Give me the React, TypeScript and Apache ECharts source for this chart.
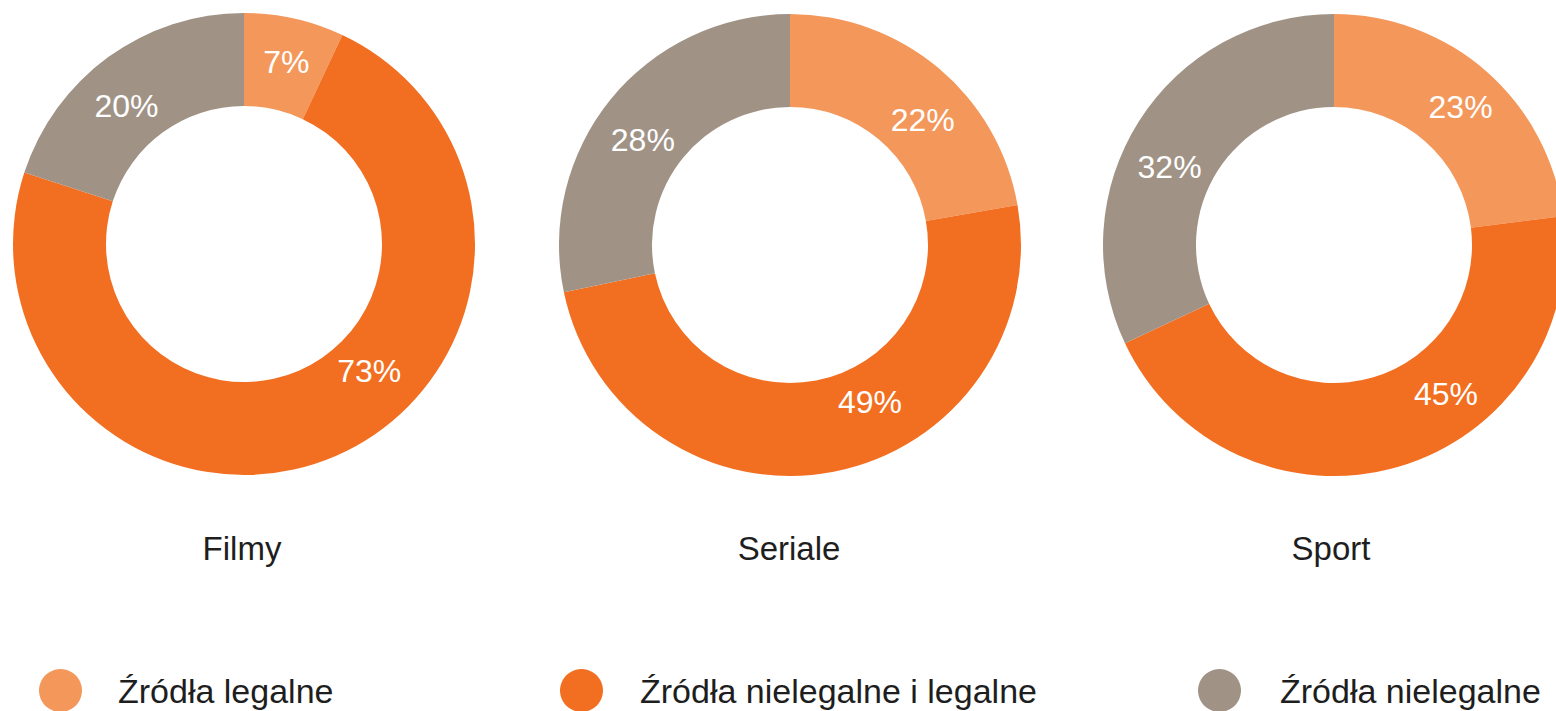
import React, { useEffect, useRef } from "react";
import * as echarts from "echarts";

const categories = ["Filmy", "Seriale", "Sport"];
const sourceNames = ["Źródła legalne", "Źródła nielegalne i legalne", "Źródła nielegalne"];
const filmyValues = [7, 73, 20];
const serialeValues = [22, 49, 28];
const sportValues = [23, 45, 32];
const colors = ["#F4975B", "#F26F22", "#A09386"];

// label placement (angle clockwise from 12 o'clock in degrees, distance from centre)
const labelAngles = [
  [13.1, 135.3, 319.5],
  [46.8, 153, 305.6],
  [42.6, 143, 295.4],
];
const labelRadii = [
  [187, 178, 181],
  [182, 176, 181],
  [187, 186, 182],
];

const FONT = "'Liberation Sans', Arial, Helvetica, sans-serif";

export default function App() {
  const ref = useRef<HTMLDivElement>(null);
  useEffect(() => {
    if (!ref.current) return;
    const chart = echarts.init(ref.current, undefined, { renderer: "svg" });
    const allValues = [filmyValues, serialeValues, sportValues];
    const centers = [
      [244, 244],
      [790, 245],
      [1334, 245],
    ];
    const titleX = [237, 784, 1326];
    const legendLeft = [39, 560, 1198];
    const legendPad = [31, 32, 34];
    chart.setOption({
      animation: false,
      backgroundColor: "#ffffff",
      color: colors,
      title: categories.map((c, i) => ({
        text: c,
        left: titleX[i],
        top: 527,
        textAlign: "center",
        textStyle: { fontFamily: FONT, fontSize: 33, fontWeight: "normal", color: "#1e1e1e" },
      })),
      legend: sourceNames.map((n, i) => ({
        data: [n],
        left: legendLeft[i],
        top: 669,
        padding: 0,
        icon: "circle",
        itemWidth: 43,
        itemHeight: 43,
        selectedMode: false,
        textStyle: {
          fontFamily: FONT,
          fontSize: 34,
          color: "#1e1e1e",
          padding: [0, 0, 0, legendPad[i]],
        },
      })),
      series: allValues.map((vals, i) => ({
        type: "pie",
        name: categories[i],
        center: centers[i],
        radius: [138, 231],
        startAngle: 90,
        clockwise: true,
        silent: true,
        label: {
          show: true,
          position: "inside",
          formatter: "{c}%",
          color: "#ffffff",
          fontFamily: FONT,
          fontSize: 32,
          align: "center",
          verticalAlign: "middle",
        },
        labelLayout: (params: any) => {
          const j = params.dataIndex;
          const a = (labelAngles[i][j] * Math.PI) / 180;
          const r = labelRadii[i][j];
          return {
            x: centers[i][0] + r * Math.sin(a),
            y: centers[i][1] - r * Math.cos(a),
            align: "center",
            verticalAlign: "middle",
          };
        },
        labelLine: { show: false },
        itemStyle: { borderWidth: 0 },
        data: vals.map((v, j) => ({ name: sourceNames[j], value: v })),
      })),
    });
    return () => chart.dispose();
  }, []);
  return (
    <div
      ref={ref}
      style={{ position: "absolute", left: 0, top: 0, width: 1556, height: 711 }}
    />
  );
}
